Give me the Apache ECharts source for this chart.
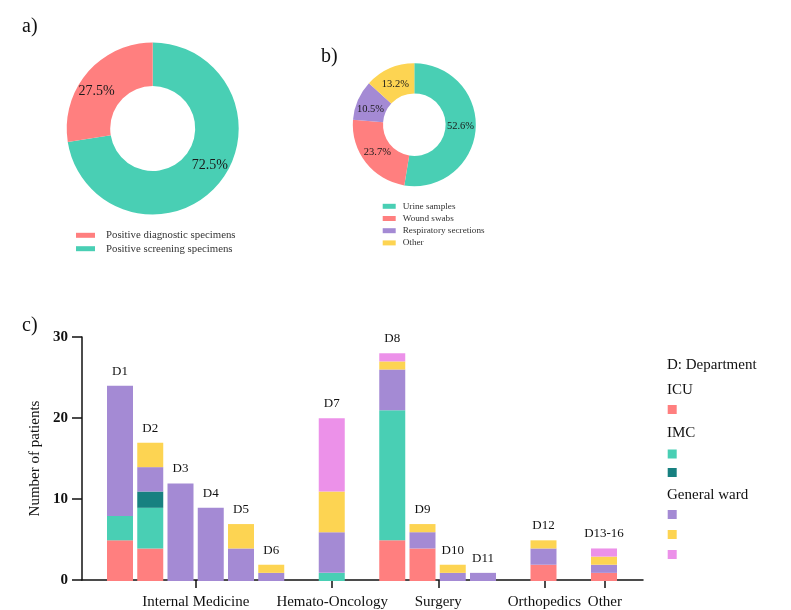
<!DOCTYPE html>
<html>
<head>
<meta charset="utf-8">
<script src="https://cdn.jsdelivr.net/npm/echarts@6/dist/echarts.min.js"></script>
<style>
html,body{margin:0;padding:0;background:#fff;}
#main{width:791px;height:610px;}
</style>
</head>
<body>
<div id="main"></div>
<script>
// ---- Panel a data ----
const pieANames = ['Positive diagnostic specimens', 'Positive screening specimens'];
const pieAValues = [27.5, 72.5];

// ---- Panel b data ----
const pieBNames = ['Urine samples', 'Wound swabs', 'Respiratory secretions', 'Other'];
const pieBValues = [52.6, 23.7, 10.5, 13.2];

// ---- Panel c data ----
const slots = ['D1','D2','D3','D4','D5','D6','','D7','','D8','D9','D10','D11','','D12','','D13-16'];
const departments = ['D1','D2','D3','D4','D5','D6','D7','D8','D9','D10','D11','D12','D13-16'];
const icu        = [5, 4, 0, 0, 0, 0, 0, 5, 4, 0, 0, 2, 1];
const imcA       = [3, 5, 0, 0, 0, 0, 1, 16, 0, 0, 0, 0, 0];
const imcB       = [0, 2, 0, 0, 0, 0, 0, 0, 0, 0, 0, 0, 0];
const wardA      = [16, 3, 12, 9, 4, 1, 5, 5, 2, 1, 1, 2, 1];
const wardB      = [0, 3, 0, 0, 3, 1, 5, 1, 1, 1, 0, 1, 1];
const wardC      = [0, 0, 0, 0, 0, 0, 9, 1, 0, 0, 0, 0, 1];
const groupNames = ['Internal Medicine', 'Hemato-Oncology', 'Surgery', 'Orthopedics', 'Other'];
const groupMembers = [['D1','D2','D3','D4','D5','D6'], ['D7'], ['D8','D9','D10','D11'], ['D12'], ['D13-16']];
const yTicks = [0, 10, 20, 30];

// ---- styles / layout ----
const SERIF = '"Liberation Serif", "Times New Roman", serif';
const C_RED = '#FF7F7F', C_TEAL = '#49CFB4', C_DTEAL = '#178080', C_PURPLE = '#A48AD4', C_YELLOW = '#FDD452', C_PINK = '#EC91E9';
const AX_LEFT = 82, AX_RIGHT = 643, FIRST_C = 120, LAST_C = 604, G_TOP = 337, G_BOTTOM = 29;
const slotW = (LAST_C - FIRST_C) / (slots.length - 1);
const padSlots = (FIRST_C - AX_LEFT) / slotW;

const xOf = d => slots.indexOf(d);
const groupCenters = groupMembers.map(m => m.reduce((s, d) => s + xOf(d), 0) / m.length);
const totals = departments.map((d, i) => icu[i] + imcA[i] + imcB[i] + wardA[i] + wardB[i] + wardC[i]);
const toSlots = vals => slots.map(s => s ? vals[departments.indexOf(s)] : '-');

const barDefs = [
  { name: 'ICU', vals: icu, color: C_RED, legendY: 409.5 },
  { name: 'IMC', vals: imcA, color: C_TEAL, legendY: 454 },
  { name: 'IMC (2)', vals: imcB, color: C_DTEAL, legendY: 472.5 },
  { name: 'General ward', vals: wardA, color: C_PURPLE, legendY: 514.5 },
  { name: 'General ward (2)', vals: wardB, color: C_YELLOW, legendY: 534.5 },
  { name: 'General ward (3)', vals: wardC, color: C_PINK, legendY: 554.5 }
];

const barSeries = barDefs.map(b => ({
  type: 'bar', name: b.name, stack: 'total', barWidth: 26, barGap: '-100%',
  xAxisIndex: 0, yAxisIndex: 0,
  itemStyle: { color: b.color },
  data: toSlots(b.vals)
}));

const totalSeries = {
  type: 'bar', name: 'totals', barWidth: 26, barGap: '-100%', z: 1,
  xAxisIndex: 0, yAxisIndex: 0,
  itemStyle: { color: 'rgba(0,0,0,0)' },
  label: {
    show: true, position: 'top', distance: 8,
    color: '#111', fontFamily: SERIF, fontSize: 13,
    formatter: p => slots[p.dataIndex]
  },
  data: toSlots(totals)
};

const pieLabel = (size) => ({
  show: true, position: 'inside', color: '#1a1a1a', fontFamily: SERIF, fontSize: size,
  formatter: p => p.value.toFixed(1) + '%'
});

// label nudges (layout only), same order as the pie's names
const pieAOffsets = [[-5, 7], [6, -7]];
const pieBOffsets = [[-3, -2], [2, -3], [1.5, 4], [1, 5]];

const barLegends = barDefs.map(b => ({
  data: [b.name], left: 667.7, top: b.legendY - 4.5, icon: 'rect',
  itemWidth: 9, itemHeight: 9, selectedMode: false, formatter: () => '',
  textStyle: { fontSize: 1, lineHeight: 1 }, padding: 0
}));

const texts = [
  { t: 'a)', x: 22, y: 27, s: 20 },
  { t: 'b)', x: 321, y: 57, s: 20 },
  { t: 'c)', x: 22, y: 326, s: 20 },
  { t: 'D: Department', x: 667, y: 365, s: 15 },
  { t: 'ICU', x: 667, y: 390, s: 15 },
  { t: 'IMC', x: 667, y: 433, s: 15 },
  { t: 'General ward', x: 667, y: 495, s: 15 }
];

const hiddenAxis = { axisLine: { show: false }, axisTick: { show: false }, axisLabel: { show: false }, splitLine: { show: false } };

const chart = echarts.init(document.getElementById('main'), null, { renderer: 'canvas' });
chart.setOption({
  animation: false,
  backgroundColor: '#fff',
  textStyle: { fontFamily: SERIF },
  graphic: texts.map(t => ({
    type: 'text', x: t.x, y: t.y,
    style: { text: t.t, fill: '#111', font: t.s + 'px ' + SERIF, verticalAlign: 'middle', textVerticalAlign: 'middle' }
  })),
  legend: [
    {
      data: pieANames, left: 76, top: 228.6, orient: 'vertical', icon: 'rect',
      itemWidth: 19, itemHeight: 5, itemGap: 0, selectedMode: false, padding: 0,
      textStyle: { fontFamily: SERIF, fontSize: 10.8, color: '#333', lineHeight: 13.4, padding: [0, 0, 0, 6] }
    },
    {
      data: pieBNames, left: 382.7, top: 200.2, orient: 'vertical', icon: 'rect',
      itemWidth: 13, itemHeight: 5, itemGap: 0, selectedMode: false, padding: 0,
      textStyle: { fontFamily: SERIF, fontSize: 9.2, color: '#333', lineHeight: 12.2, padding: [0, 0, 0, 2] }
    }
  ].concat(barLegends),
  grid: [
    { left: FIRST_C - slotW / 2, right: 791 - (LAST_C + slotW / 2), top: G_TOP, bottom: G_BOTTOM },
    { left: AX_LEFT, right: 791 - AX_RIGHT, top: G_TOP, bottom: G_BOTTOM }
  ],
  xAxis: [
    Object.assign({ type: 'category', gridIndex: 0, data: slots }, hiddenAxis),
    {
      type: 'value', gridIndex: 1, min: -padSlots, max: slots.length - 1 + padSlots,
      splitLine: { show: false },
      axisLine: { show: true, onZero: false, lineStyle: { color: '#111', width: 1.5 } },
      axisTick: { show: true, length: 8, customValues: groupCenters, lineStyle: { color: '#111', width: 1.5 } },
      axisLabel: {
        show: true, customValues: groupCenters, margin: 15,
        color: '#111', fontFamily: SERIF, fontSize: 15,
        formatter: v => {
          const k = groupCenters.findIndex(c => Math.abs(c - v) < 1e-6);
          return k >= 0 ? groupNames[k] : '';
        }
      }
    }
  ],
  yAxis: [
    Object.assign({ type: 'value', gridIndex: 0, min: yTicks[0], max: yTicks[yTicks.length - 1] }, hiddenAxis),
    {
      type: 'value', gridIndex: 1, min: yTicks[0], max: yTicks[yTicks.length - 1], interval: yTicks[1] - yTicks[0],
      name: 'Number of patients', nameLocation: 'middle', nameGap: 37, nameRotate: 90,
      nameTextStyle: { fontFamily: SERIF, fontSize: 15, color: '#111' },
      splitLine: { show: false },
      axisLine: { show: true, onZero: false, lineStyle: { color: '#111', width: 1.5 } },
      axisTick: { show: true, length: 10, lineStyle: { color: '#111', width: 1.5 } },
      axisLabel: { margin: 14, color: '#111', fontFamily: SERIF, fontSize: 15, fontWeight: 'bold' }
    }
  ],
  series: [
    {
      type: 'pie', name: 'a', center: [152.7, 128.5], radius: [42.5, 86],
      startAngle: 90, clockwise: true, avoidLabelOverlap: false,
      label: pieLabel(14), labelLine: { show: false },
      emphasis: { disabled: true },
      data: [
        { name: pieANames[1], value: pieAValues[1], itemStyle: { color: C_TEAL }, label: { offset: pieAOffsets[1] } },
        { name: pieANames[0], value: pieAValues[0], itemStyle: { color: C_RED }, label: { offset: pieAOffsets[0] } }
      ]
    },
    {
      type: 'pie', name: 'b', center: [414.3, 124.7], radius: [31.3, 61.5],
      startAngle: 90, clockwise: true, avoidLabelOverlap: false,
      label: pieLabel(10.5), labelLine: { show: false },
      emphasis: { disabled: true },
      data: pieBNames.map((n, i) => ({
        name: n, value: pieBValues[i],
        itemStyle: { color: [C_TEAL, C_RED, C_PURPLE, C_YELLOW][i] },
        label: { offset: pieBOffsets[i] }
      }))
    }
  ].concat(barSeries, [totalSeries])
});
</script>
</body>
</html>
